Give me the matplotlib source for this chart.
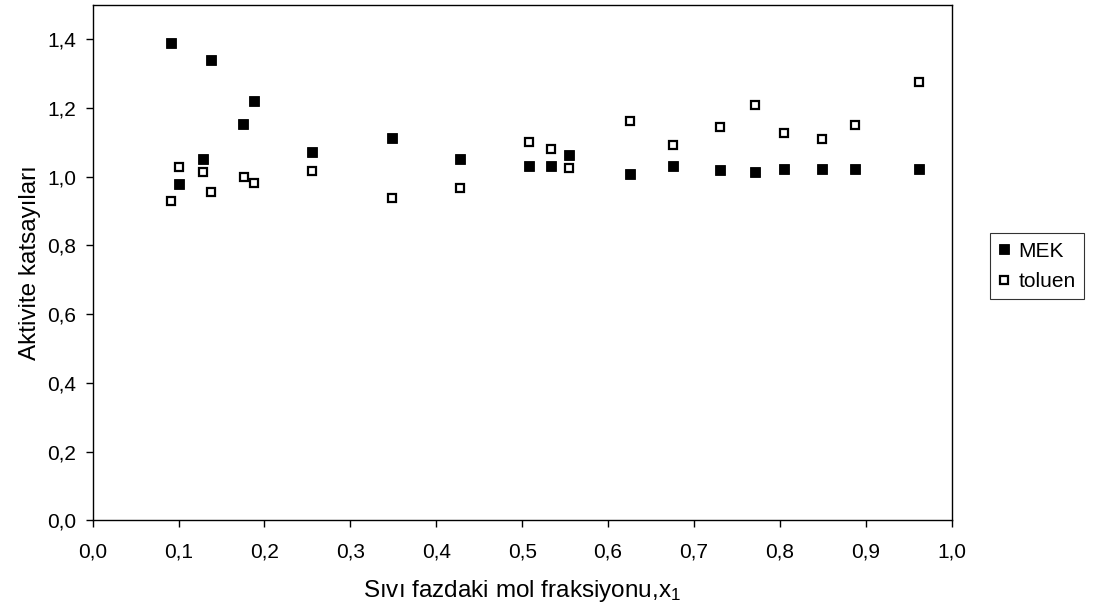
import matplotlib
matplotlib.use("Agg")
import matplotlib.pyplot as plt
from matplotlib.ticker import FuncFormatter, MultipleLocator

plt.rcParams["font.family"] = ["Liberation Sans", "DejaVu Sans"]
plt.rcParams["mathtext.default"] = "regular"

# sıvı fazdaki mol fraksiyonu ve aktivite katsayıları
x_mek = [0.091, 0.101, 0.128, 0.138, 0.175, 0.188, 0.255, 0.349, 0.428,
         0.508, 0.534, 0.555, 0.626, 0.676, 0.730, 0.771, 0.805, 0.849,
         0.887, 0.962]
g_mek = [1.388, 0.979, 1.052, 1.339, 1.153, 1.219, 1.072, 1.113, 1.051,
         1.032, 1.030, 1.063, 1.008, 1.032, 1.020, 1.013, 1.022, 1.022,
         1.023, 1.023]

x_tol = [0.091, 0.101, 0.128, 0.138, 0.176, 0.188, 0.255, 0.349, 0.428,
         0.508, 0.534, 0.555, 0.626, 0.676, 0.730, 0.771, 0.805, 0.849,
         0.887, 0.962]
g_tol = [0.930, 1.029, 1.012, 0.955, 1.000, 0.981, 1.017, 0.939, 0.967,
         1.100, 1.081, 1.024, 1.163, 1.092, 1.144, 1.208, 1.126, 1.109,
         1.150, 1.276]

x_ticks = [0.0, 0.1, 0.2, 0.3, 0.4, 0.5, 0.6, 0.7, 0.8, 0.9, 1.0]


def virgul(v, pos):
    return f"{v:.1f}".replace(".", ",")


fig = plt.figure(figsize=(10.93, 6.15), dpi=100)
ax = fig.add_axes([0.0848, 0.154, 0.7859, 0.8384])

ax.plot(x_mek, g_mek, linestyle="none", marker="s", markersize=6.8,
        markerfacecolor="black", markeredgecolor="black",
        markeredgewidth=0.6, label="MEK")
ax.plot(x_tol, g_tol, linestyle="none", marker="s", markersize=6.2,
        markerfacecolor="white", markeredgecolor="black",
        markeredgewidth=1.6, label="toluen")

ax.set_xlim(0, 1.0)
ax.set_ylim(0, 1.5)
ax.set_xticks(x_ticks)
ax.yaxis.set_major_locator(MultipleLocator(0.2))
ax.xaxis.set_major_formatter(FuncFormatter(virgul))
ax.yaxis.set_major_formatter(FuncFormatter(virgul))
ax.tick_params(direction="out", length=5, width=1, labelsize=15)
ax.tick_params(axis="x", pad=11)
ax.tick_params(axis="y", pad=7)

for side in ax.spines.values():
    side.set_color("black")
    side.set_linewidth(1.0)

ax.set_xlabel("Sıvı fazdaki mol fraksiyonu,x$_1$", fontsize=17.5, labelpad=12)
ax.set_ylabel("Aktivite katsayıları", fontsize=17.5, labelpad=4)

leg = fig.legend(loc="center left", bbox_to_anchor=(0.9058, 0.567),
                 bbox_transform=fig.transFigure, fontsize=15,
                 frameon=True, fancybox=False, handlelength=0.5,
                 handletextpad=0.45, borderpad=0.4, labelspacing=0.55,
                 borderaxespad=0)
leg.get_frame().set_edgecolor("black")
leg.get_frame().set_linewidth(0.8)

fig.savefig("out.png", dpi=100)
